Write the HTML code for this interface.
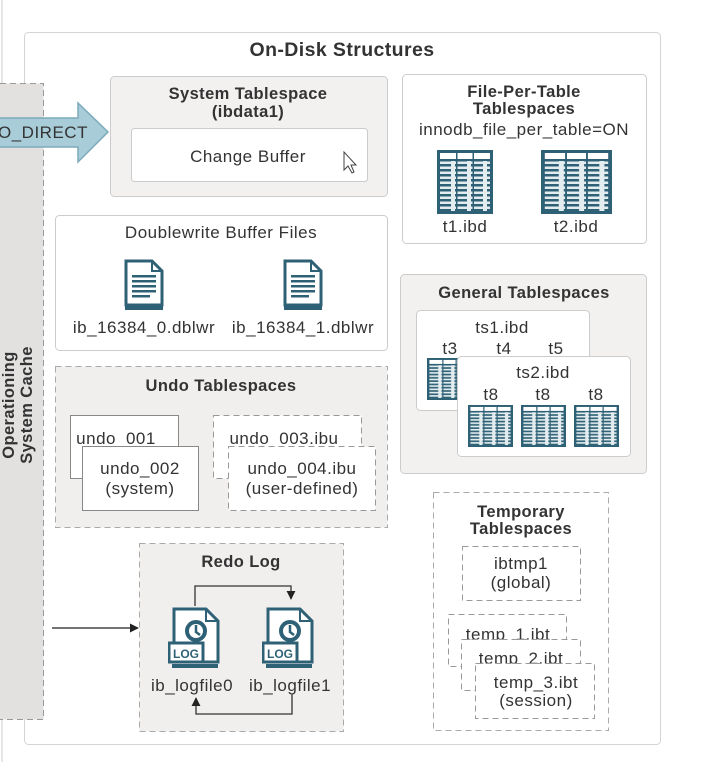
<!DOCTYPE html>
<html><head><meta charset="utf-8"><style>
html,body{margin:0;padding:0;background:#fff;}
svg{display:block;font-family:"Liberation Sans",sans-serif;}
svg text{font-size:17px;letter-spacing:0.5px;fill:#333;}
svg text.b{font-weight:bold;font-size:16.5px;letter-spacing:0.4px;}
</style></head><body>
<svg width="703" height="762" viewBox="0 0 703 762" xmlns="http://www.w3.org/2000/svg">
<defs>
<pattern id="st" width="16" height="5" patternUnits="userSpaceOnUse" x="0" y="13">
<rect width="16" height="5" fill="#e3ecef"/><rect x="2" y="1" width="12" height="2.5" fill="#2f6176"/>
</pattern>
<symbol id="tbl" viewBox="0 0 56 64" preserveAspectRatio="none">
<rect width="56" height="64" fill="#2f6176"/>
<rect x="3" y="3" width="16" height="6" fill="#fff"/><rect x="20.5" y="3" width="15" height="6" fill="#fff"/><rect x="37" y="3" width="16" height="6" fill="#fff"/>
<rect x="3" y="11" width="16" height="50" fill="url(#st)"/><rect x="20.5" y="11" width="15" height="50" fill="url(#st)"/><rect x="37" y="11" width="16" height="50" fill="url(#st)"/>
</symbol>
<symbol id="doc" viewBox="0 0 40 52">
<rect x="1" y="47" width="38" height="4" fill="#2f6176"/>
<path d="M2 2 H28 L38 12 V46 H2 Z" fill="#fff" stroke="#2f6176" stroke-width="3"/>
<path d="M28 2 V12 H38" fill="none" stroke="#2f6176" stroke-width="2"/>
<g fill="#2f6176"><rect x="8" y="16" width="24" height="2.5"/><rect x="8" y="21" width="24" height="2.5"/><rect x="8" y="26" width="24" height="2.5"/><rect x="8" y="31" width="24" height="2.5"/><rect x="8" y="36" width="18" height="2.5"/></g>
</symbol>
<symbol id="log" viewBox="0 0 54 62">
<rect x="4" y="57" width="46" height="4" fill="#2f6176"/>
<path d="M6 2 H38 L50 14 V55 H6 Z" fill="#fff" stroke="#2f6176" stroke-width="3"/>
<path d="M38 2 V14 H50" fill="none" stroke="#2f6176" stroke-width="2"/>
<circle cx="28" cy="24" r="9" fill="none" stroke="#2f6176" stroke-width="4"/>
<path d="M28 18 V25 L32 28" stroke="#2f6176" stroke-width="2.5" fill="none"/>
<rect x="1" y="36" width="34" height="19" fill="#fff" stroke="#2f6176" stroke-width="3"/>
<text x="18" y="51" text-anchor="middle" style="font-size:12px;font-weight:bold;fill:#2f6176;letter-spacing:0">LOG</text>
</symbol>
<marker id="ah" viewBox="0 0 10 10" refX="9" refY="5" markerWidth="7" markerHeight="7" orient="auto"><path d="M0 0 L10 5 L0 10 Z" fill="#222"/></marker>
</defs>

<line x1="2" y1="0" x2="2" y2="762" stroke="#ccc" stroke-width="1"/>
<rect x="24.5" y="32.5" width="636" height="712" rx="4" fill="#fff" stroke="#d4d4d4"/>
<rect x="-10" y="83.5" width="53.5" height="636" fill="#e2e1e0" stroke="#999" stroke-dasharray="6 4"/>
<text class="b" transform="translate(26,405) rotate(-90)" text-anchor="middle"><tspan x="0" dy="-12">Operationing</tspan><tspan x="0" dy="18">System Cache</tspan></text>
<path d="M-5 118 H78 V103 L108 132 L78 162 V147 H-5 Z" fill="#a8ccd8" stroke="#7aaabb" stroke-width="1.5"/>
<text x="-2" y="138">O_DIRECT</text>

<text class="b" x="342" y="56" text-anchor="middle" style="font-size:19.5px">On-Disk Structures</text>

<rect x="110.5" y="76.5" width="277" height="120" rx="4" fill="#f3f1f0" stroke="#ccc"/>
<text class="b" x="248" y="99" text-anchor="middle">System Tablespace</text>
<text class="b" x="248" y="117" text-anchor="middle">(ibdata1)</text>
<rect x="131.5" y="128.5" width="236" height="53" rx="3" fill="#fff" stroke="#ccc"/>
<text x="248" y="162" text-anchor="middle">Change Buffer</text>
<path d="M344 152 V170 L348 166 L352 173 L354 172 L351 165 L356 165 Z" fill="#fff" stroke="#444" stroke-width="1"/>

<rect x="402.5" y="74.5" width="244" height="169" rx="4" fill="#fff" stroke="#ccc"/>
<text class="b" x="524" y="97" text-anchor="middle">File-Per-Table</text>
<text class="b" x="524" y="114" text-anchor="middle">Tablespaces</text>
<text x="524" y="135" text-anchor="middle">innodb_file_per_table=ON</text>
<use href="#tbl" x="437" y="150" width="56" height="64"/>
<use href="#tbl" x="541" y="150" width="71" height="64"/>
<text x="465" y="232" text-anchor="middle">t1.ibd</text>
<text x="576" y="232" text-anchor="middle">t2.ibd</text>

<rect x="55.5" y="215.5" width="332" height="135" rx="4" fill="#fff" stroke="#ccc"/>
<text x="221" y="238" text-anchor="middle">Doublewrite Buffer Files</text>
<use href="#doc" x="124" y="259" width="40" height="52"/>
<use href="#doc" x="283" y="259" width="40" height="52"/>
<text x="144" y="333" text-anchor="middle">ib_16384_0.dblwr</text>
<text x="303" y="333" text-anchor="middle">ib_16384_1.dblwr</text>

<rect x="400.5" y="274.5" width="246" height="199" rx="4" fill="#f3f1f0" stroke="#ccc"/>
<text class="b" x="524" y="298" text-anchor="middle">General Tablespaces</text>
<rect x="416.5" y="310.5" width="173" height="100" rx="4" fill="#fff" stroke="#ccc"/>
<text x="502" y="333" text-anchor="middle">ts1.ibd</text>
<text x="450" y="354" text-anchor="middle">t3</text>
<text x="504" y="354" text-anchor="middle">t4</text>
<text x="556" y="354" text-anchor="middle">t5</text>
<use href="#tbl" x="427" y="358" width="45" height="42"/>
<rect x="457.5" y="356.5" width="173" height="100" rx="4" fill="#fff" stroke="#ccc"/>
<text x="543" y="378" text-anchor="middle">ts2.ibd</text>
<text x="491" y="400" text-anchor="middle">t8</text>
<text x="543" y="400" text-anchor="middle">t8</text>
<text x="596" y="400" text-anchor="middle">t8</text>
<use href="#tbl" x="468" y="405" width="45" height="42"/>
<use href="#tbl" x="521" y="405" width="45" height="42"/>
<use href="#tbl" x="574" y="405" width="45" height="42"/>

<rect x="55.5" y="366.5" width="332" height="161" fill="#f1efee" stroke="#aaa" stroke-dasharray="6 4"/>
<text class="b" x="221" y="391" text-anchor="middle">Undo Tablespaces</text>
<rect x="70.5" y="415.5" width="108" height="63" fill="#fff" stroke="#888"/>
<text x="116" y="444" text-anchor="middle">undo_001</text>
<rect x="82.5" y="446.5" width="116" height="64" fill="#fff" stroke="#888"/>
<text x="140" y="474" text-anchor="middle">undo_002</text>
<text x="140" y="494" text-anchor="middle">(system)</text>
<rect x="213.5" y="415.5" width="148" height="63" fill="#fff" stroke="#999" stroke-dasharray="6 4"/>
<text x="284" y="444" text-anchor="middle">undo_003.ibu</text>
<rect x="228.5" y="446.5" width="147" height="64" fill="#fff" stroke="#999" stroke-dasharray="6 4"/>
<text x="302" y="474" text-anchor="middle">undo_004.ibu</text>
<text x="302" y="494" text-anchor="middle">(user-defined)</text>

<rect x="433.5" y="492.5" width="175" height="238" fill="#fff" stroke="#aaa" stroke-dasharray="6 4"/>
<text class="b" x="521" y="517" text-anchor="middle">Temporary</text>
<text class="b" x="521" y="534" text-anchor="middle">Tablespaces</text>
<rect x="462.5" y="546.5" width="118" height="54" fill="#fff" stroke="#999" stroke-dasharray="6 4"/>
<text x="521" y="569" text-anchor="middle">ibtmp1</text>
<text x="521" y="588" text-anchor="middle">(global)</text>
<rect x="448.5" y="614.5" width="118" height="52" fill="#fff" stroke="#999" stroke-dasharray="6 4"/>
<text x="508" y="640" text-anchor="middle">temp_1.ibt</text>
<rect x="461.5" y="639.5" width="119" height="51" fill="#fff" stroke="#999" stroke-dasharray="6 4"/>
<text x="521" y="664" text-anchor="middle">temp_2.ibt</text>
<rect x="475.5" y="663.5" width="119" height="55" fill="#fff" stroke="#999" stroke-dasharray="6 4"/>
<text x="536" y="688" text-anchor="middle">temp_3.ibt</text>
<text x="536" y="706" text-anchor="middle">(session)</text>

<rect x="139.5" y="543.5" width="204" height="188" fill="#f1efee" stroke="#aaa" stroke-dasharray="6 4"/>
<text class="b" x="241" y="567" text-anchor="middle">Redo Log</text>
<path d="M195 606 V586 H291 V599" fill="none" stroke="#333" stroke-width="1.3" marker-end="url(#ah)"/>
<path d="M292 694 V714 H196 V698" fill="none" stroke="#333" stroke-width="1.3" marker-end="url(#ah)"/>
<use href="#log" x="168" y="607" width="54" height="62"/>
<use href="#log" x="262" y="607" width="54" height="62"/>
<text x="192" y="691" text-anchor="middle">ib_logfile0</text>
<text x="290" y="691" text-anchor="middle">ib_logfile1</text>
<line x1="52" y1="628" x2="138" y2="628" stroke="#222" stroke-width="1.3" marker-end="url(#ah)"/>
</svg>
</body></html>
